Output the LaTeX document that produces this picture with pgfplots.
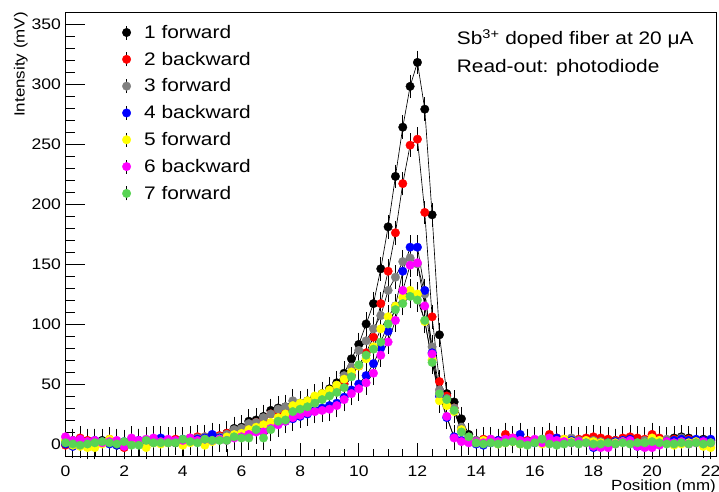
\documentclass[border=0pt]{standalone}
\usepackage{fontspec}
\setmainfont{Liberation Sans}[FakeStretch=1.15]
\usepackage{pgfplots}
\usepackage{pgfplotstable}
\pgfplotsset{compat=1.18}
\definecolor{rgrey}{RGB}{128,128,128}
\definecolor{rgreen}{RGB}{89,212,84}
\definecolor{ryellow}{RGB}{255,255,0}
\definecolor{rmag}{RGB}{255,0,255}
\pgfplotstableread{
x s1 s2 s3 s4 s5 s6 s7
0.00 2 -1 1 0 3 6 1
0.25 3 1 2 -2 -1 3 0
0.50 4 5 3 2 -2 4 -1
0.75 1 3 2 1 -3 2 0
1.00 2 1 0 3 -3 3 1
1.25 3 2 1 2 0 1 2
1.50 1 4 2 0 4 2 1
1.75 -1 0 1 -1 2 3 0
2.00 0 -3 1 2 0 -2 2
2.25 2 1 3 1 0 5 -1
2.50 3 2 2 3 1 3 -1
2.75 1 0 3 2 -3 4 3
3.00 2 3 1 4 1 5 1
3.25 4 3 2 5 0 2 1
3.50 3 2 3 1 1 4 1
3.75 1 4 2 2 2 3 1
4.00 3 2 3 4 -1 3 4
4.25 4 5 4 3 1 5 2
4.50 5 6 5 4 2 3 1
4.75 5 6 6 5 -1 4 4
5.00 5 6 5 8 2 3 3
5.25 6 7 6 5 4 4 3
5.50 9 9 8 6 6 3 3
5.75 13 10 12 8 8 5 6
6.00 14 11 13 9 9 6 5
6.25 19 15 17 10 12 8 5
6.50 20 18 18 11 14 10 12
6.75 23 20 22 13 16 10 5
7.00 28 25 25 14 18 13 12
7.25 30 27 29 17 22 16 19
7.50 31 28 31 19 25 19 20
7.75 33 30 36 21 32 22 27
8.00 34 31 34 23 34 24 29
8.25 36 33 35 25 36 26 31
8.50 39 35 37 28 40 27 34
8.75 42 38 40 30 42 28 37
9.00 46 41 44 32 45 29 40
9.25 51 45 49 34 49 32 43
9.50 59 50 57 39 54 37 47
9.75 71 57 64 45 60 42 56
10.00 83 65 78 50 65 46 66
10.25 100 76 86 57 71 51 74
10.50 117 89 96 67 81 59 79
10.75 146 117 107 80 96 74 85
11.00 181 144 128 94 106 85 100
11.25 223 176 139 115 115 103 112
11.50 264 217 152 144 122 128 117
11.75 298 249 155 164 128 149 123
12.00 318 254 150 164 125 151 120
12.25 279 193 125 128 102 115 103
12.50 191 106 81 76 70 75 68
12.75 91 52 45 40 36 42 42
13.00 42 40 38 22 32 23 37
13.25 35 30 30 6 27 5 28
13.50 21 12 14 3 12 2 10
13.75 8 4 5 2 3 1 6
14.00 3 2 3 0 1 2 1
14.25 2 4 1 -1 3 1 0
14.50 3 2 4 1 2 4 1
14.75 1 3 2 3 0 2 0
15.00 4 8 3 2 1 4 1
15.25 3 5 2 4 2 5 2
15.50 2 4 1 8 0 3 0
15.75 0 3 2 2 1 2 -1
16.00 2 3 3 1 2 4 1
16.25 1 2 4 3 0 1 4
16.50 3 8 2 4 1 5 0
16.75 2 5 3 5 1 3 -1
17.00 3 4 2 2 4 2 0
17.25 4 3 5 3 2 1 1
17.50 2 4 3 1 1 2 0
17.75 3 5 2 2 3 1 1
18.00 4 6 3 -3 2 -2 0
18.25 3 5 2 -1 1 -3 0
18.50 2 4 1 1 0 -3 1
18.75 3 3 2 2 1 0 0
19.00 2 5 3 3 2 2 1
19.25 4 6 2 4 1 3 0
19.50 3 5 1 -2 0 -2 1
19.75 2 4 3 1 1 -3 1
20.00 3 8 2 3 5 -3 2
20.25 4 5 3 2 3 -1 1
20.50 3 3 4 2 1 2 0
20.75 5 4 3 3 -1 1 0
21.00 6 3 5 4 0 2 1
21.25 5 4 3 3 1 0 0
21.50 3 2 2 4 2 1 1
21.75 4 3 2 3 -2 2 0
22.00 3 3 2 4 -3 1 1
}\data
\pgfplotsset{
  rootplot/.style={black, line width=0.65bp, mark=*, mark size=4.3bp,
    mark options={fill=#1, draw=#1, line width=0.3bp},
    error bars/.cd, y dir=both, y fixed=7.5,
    error bar style={black, line width=0.7bp},
    error mark=-,
    error mark options={black, mark size=2.8bp, line width=1.1bp}},
}
\begin{document}
\begin{tikzpicture}
\useasboundingbox (0,0) rectangle (719bp,492bp);
\begin{axis}[
  at={(65.5bp,36bp)}, anchor=south west,
  scale only axis, width=650.5bp, height=444bp,
  xmin=0, xmax=22.18, ymin=-10, ymax=360,
  clip=false,
  axis line style={black, line width=0.7bp},
  tick pos=left, tick align=inside,
  xtick={0,2,...,22}, minor x tick num=3,
  ytick={0,50,...,350}, minor y tick num=4,
  xtick style={black, line width=0.6bp, /pgfplots/major tick length=13.3bp, /pgfplots/minor tick length=6.7bp},
  ytick style={black, line width=0.6bp, /pgfplots/major tick length=19.5bp, /pgfplots/minor tick length=9.7bp},
  /pgf/number format/assume math mode=true,
  xticklabel style={font=\fontsize{15.3}{16}\selectfont, anchor=base, inner sep=0pt, yshift=-20bp},
  yticklabel style={font=\fontsize{15.3}{16}\selectfont, anchor=east, inner sep=0pt, xshift=-4.5bp},
  xlabel={Position (mm)}, ylabel={Intensity (mV)},
  every axis x label/.style={at={(axis description cs:1,-0.0766)}, anchor=base east, inner sep=0pt, font=\fontsize{14.8}{16}\selectfont},
  every axis y label/.style={at={(axis description cs:-0.063,1)}, anchor=base east, rotate=90, inner sep=0pt, font=\fontsize{14.8}{16}\selectfont},
  legend image code/.code={\draw[black, line width=0.7bp] (0pt,-7bp) -- (0pt,7bp); \draw[#1] plot coordinates {(0pt,0pt)}; \path (15.3bp,0pt);},
  legend style={draw=none, fill=none, at={(axis description cs:0.087,0.9752)}, anchor=north west, font=\fontsize{18.2}{20}\selectfont, row sep=8.2bp, inner sep=0pt},
  legend cell align=left,
]
\addplot[rootplot=black] table[x=x, y=s1] {\data};
\addlegendentry{1 forward}
\addplot[rootplot=red] table[x=x, y=s2] {\data};
\addlegendentry{2 backward}
\addplot[rootplot=rgrey] table[x=x, y=s3] {\data};
\addlegendentry{3 forward}
\addplot[rootplot=blue] table[x=x, y=s4] {\data};
\addlegendentry{4 backward}
\addplot[rootplot=ryellow] table[x=x, y=s5] {\data};
\addlegendentry{5 forward}
\addplot[rootplot=rmag] table[x=x, y=s6] {\data};
\addlegendentry{6 backward}
\addplot[rootplot=rgreen] table[x=x, y=s7] {\data};
\addlegendentry{7 forward}
\node[anchor=base west, inner sep=0pt, font=\fontsize{18.2}{20}\selectfont] at (axis description cs:0.6014,0.9273) {Sb\textsuperscript{3+} doped fiber at 20 μA};
\node[anchor=base west, inner sep=0pt, font=\fontsize{18.2}{20}\selectfont] at (axis description cs:0.6014,0.8633) {Read-out: photodiode};
\end{axis}
\end{tikzpicture}
\end{document}
